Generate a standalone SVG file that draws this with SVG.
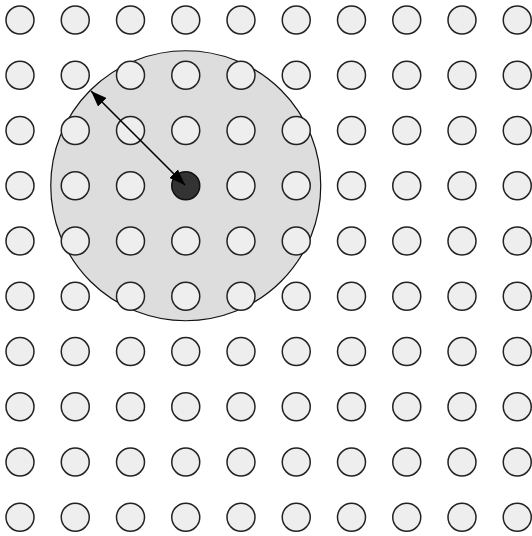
<svg xmlns="http://www.w3.org/2000/svg" width="532" height="536" viewBox="0 0 532 536">
<style>
.dot{fill:#eeeeee;stroke:#222;stroke-width:1.5}
.area{fill:#dddddd;stroke:#111;stroke-width:1.2}
.center{fill:#333333;stroke:#111;stroke-width:1.5}
.arrow{stroke:#000;stroke-width:1.6;fill:none;marker-start:url(#ah);marker-end:url(#ah)}
</style>
<defs>
<marker id="ah" viewBox="0 0 16 12" refX="16" refY="6" markerWidth="16" markerHeight="12" markerUnits="userSpaceOnUse" orient="auto-start-reverse">
<path d="M0,0 L16,6 L0,12 Z" fill="#000"/>
</marker>
<circle id="d" r="14" class="dot"/>
</defs>
<rect width="532" height="536" fill="#ffffff"/>
<g id="radius-area"><circle cx="185.75" cy="185.75" r="135" class="area"/></g>
<g id="grid">
<g id="row0"><use href="#d" x="20" y="20"/><use href="#d" x="75.25" y="20"/><use href="#d" x="130.5" y="20"/><use href="#d" x="185.75" y="20"/><use href="#d" x="241" y="20"/><use href="#d" x="296.25" y="20"/><use href="#d" x="351.5" y="20"/><use href="#d" x="406.75" y="20"/><use href="#d" x="462" y="20"/><use href="#d" x="517.25" y="20"/></g>
<g id="row1"><use href="#d" x="20" y="75.25"/><use href="#d" x="75.25" y="75.25"/><use href="#d" x="130.5" y="75.25"/><use href="#d" x="185.75" y="75.25"/><use href="#d" x="241" y="75.25"/><use href="#d" x="296.25" y="75.25"/><use href="#d" x="351.5" y="75.25"/><use href="#d" x="406.75" y="75.25"/><use href="#d" x="462" y="75.25"/><use href="#d" x="517.25" y="75.25"/></g>
<g id="row2"><use href="#d" x="20" y="130.5"/><use href="#d" x="75.25" y="130.5"/><use href="#d" x="130.5" y="130.5"/><use href="#d" x="185.75" y="130.5"/><use href="#d" x="241" y="130.5"/><use href="#d" x="296.25" y="130.5"/><use href="#d" x="351.5" y="130.5"/><use href="#d" x="406.75" y="130.5"/><use href="#d" x="462" y="130.5"/><use href="#d" x="517.25" y="130.5"/></g>
<g id="row3"><use href="#d" x="20" y="185.75"/><use href="#d" x="75.25" y="185.75"/><use href="#d" x="130.5" y="185.75"/><use href="#d" x="241" y="185.75"/><use href="#d" x="296.25" y="185.75"/><use href="#d" x="351.5" y="185.75"/><use href="#d" x="406.75" y="185.75"/><use href="#d" x="462" y="185.75"/><use href="#d" x="517.25" y="185.75"/></g>
<g id="row4"><use href="#d" x="20" y="241"/><use href="#d" x="75.25" y="241"/><use href="#d" x="130.5" y="241"/><use href="#d" x="185.75" y="241"/><use href="#d" x="241" y="241"/><use href="#d" x="296.25" y="241"/><use href="#d" x="351.5" y="241"/><use href="#d" x="406.75" y="241"/><use href="#d" x="462" y="241"/><use href="#d" x="517.25" y="241"/></g>
<g id="row5"><use href="#d" x="20" y="296.25"/><use href="#d" x="75.25" y="296.25"/><use href="#d" x="130.5" y="296.25"/><use href="#d" x="185.75" y="296.25"/><use href="#d" x="241" y="296.25"/><use href="#d" x="296.25" y="296.25"/><use href="#d" x="351.5" y="296.25"/><use href="#d" x="406.75" y="296.25"/><use href="#d" x="462" y="296.25"/><use href="#d" x="517.25" y="296.25"/></g>
<g id="row6"><use href="#d" x="20" y="351.5"/><use href="#d" x="75.25" y="351.5"/><use href="#d" x="130.5" y="351.5"/><use href="#d" x="185.75" y="351.5"/><use href="#d" x="241" y="351.5"/><use href="#d" x="296.25" y="351.5"/><use href="#d" x="351.5" y="351.5"/><use href="#d" x="406.75" y="351.5"/><use href="#d" x="462" y="351.5"/><use href="#d" x="517.25" y="351.5"/></g>
<g id="row7"><use href="#d" x="20" y="406.75"/><use href="#d" x="75.25" y="406.75"/><use href="#d" x="130.5" y="406.75"/><use href="#d" x="185.75" y="406.75"/><use href="#d" x="241" y="406.75"/><use href="#d" x="296.25" y="406.75"/><use href="#d" x="351.5" y="406.75"/><use href="#d" x="406.75" y="406.75"/><use href="#d" x="462" y="406.75"/><use href="#d" x="517.25" y="406.75"/></g>
<g id="row8"><use href="#d" x="20" y="462"/><use href="#d" x="75.25" y="462"/><use href="#d" x="130.5" y="462"/><use href="#d" x="185.75" y="462"/><use href="#d" x="241" y="462"/><use href="#d" x="296.25" y="462"/><use href="#d" x="351.5" y="462"/><use href="#d" x="406.75" y="462"/><use href="#d" x="462" y="462"/><use href="#d" x="517.25" y="462"/></g>
<g id="row9"><use href="#d" x="20" y="517.25"/><use href="#d" x="75.25" y="517.25"/><use href="#d" x="130.5" y="517.25"/><use href="#d" x="185.75" y="517.25"/><use href="#d" x="241" y="517.25"/><use href="#d" x="296.25" y="517.25"/><use href="#d" x="351.5" y="517.25"/><use href="#d" x="406.75" y="517.25"/><use href="#d" x="462" y="517.25"/><use href="#d" x="517.25" y="517.25"/></g>
</g>
<g id="center-node"><circle cx="185.75" cy="185.75" r="14" class="center"/></g>
<g id="connectors"><line x1="185" y1="185" x2="91" y2="91" class="arrow"/></g>
</svg>
